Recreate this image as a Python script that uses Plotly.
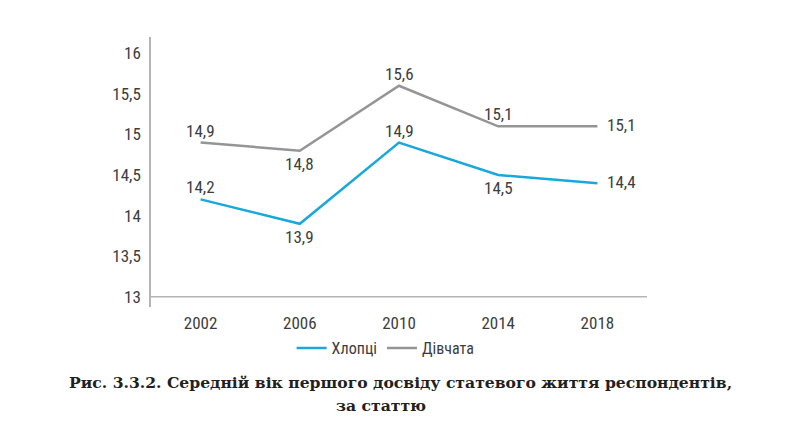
import plotly.graph_objects as go

years = ["2002", "2006", "2010", "2014", "2018"]
boys = [14.2, 13.9, 14.9, 14.5, 14.4]
girls = [14.9, 14.8, 15.6, 15.1, 15.1]
boys_pos = ["above", "below", "above", "below", "right"]
girls_pos = ["above", "below", "above", "above", "right"]
y_ticks = [13, 13.5, 14, 14.5, 15, 15.5, 16]
y_tick_labels = ["13", "13,5", "14", "14,5", "15", "15,5", "16"]
caption1 = "Рис. 3.3.2. Середній вік першого досвіду статевого життя респондентів,"
caption2 = "за статтю"

fmt = lambda v: f"{v:.1f}".replace(".", ",")
tick_font = dict(family="Liberation Sans Narrow, Roboto Condensed, Arial Narrow, Liberation Sans",
                 size=17, color="#3d3d3d")

fig = go.Figure()
fig.add_trace(go.Scatter(x=years, y=boys, mode="lines", name="Хлопці",
                         line=dict(color="#1aa7dc", width=2.5)))
fig.add_trace(go.Scatter(x=years, y=girls, mode="lines", name="Дівчата",
                         line=dict(color="#959595", width=2.5)))

shifts = {"above": dict(yshift=12, xshift=0, xanchor="center"),
          "below": dict(yshift=-13, xshift=0, xanchor="center"),
          "right": dict(yshift=1, xshift=8, xanchor="left")}
annotations = []
for vals, poss in ((boys, boys_pos), (girls, girls_pos)):
    for i, (v, p) in enumerate(zip(vals, poss)):
        s = shifts[p]
        annotations.append(dict(x=i, y=v, xref="x", yref="y", text=fmt(v), showarrow=False,
                                xanchor=s["xanchor"], yanchor="middle",
                                xshift=s["xshift"], yshift=s["yshift"], font=tick_font))

fig.add_shape(type="line", xref="paper", yref="y", x0=0, x1=1, y0=13, y1=13,
              line=dict(color="#b5b5b5", width=1.5), layer="below")

annotations += [
    dict(text="<b>" + caption1 + "</b>", xref="paper", yref="paper", x=0.5, xanchor="center",
         y=-0.281, yanchor="middle", showarrow=False, xshift=1,
         font=dict(family="DejaVu Serif, Liberation Serif", size=15.6, color="#231f20")),
    dict(text="<b>" + caption2 + "</b>", xref="paper", yref="paper", x=0.5, xanchor="center",
         y=-0.363, yanchor="middle", showarrow=False, xshift=-18,
         font=dict(family="DejaVu Serif, Liberation Serif", size=15.6, color="#231f20")),
]

fig.update_layout(
    width=800, height=424,
    margin=dict(l=151, r=153, t=37, b=117, autoexpand=False),
    plot_bgcolor="white", paper_bgcolor="white",
    showlegend=True,
    legend=dict(orientation="h", x=0.473, xanchor="center", y=-0.152, yanchor="middle",
                font=dict(family=tick_font["family"], size=16, color="#3d3d3d"), tracegroupgap=0),
    xaxis=dict(type="category", range=[-0.5, len(years) - 0.5], showgrid=False, zeroline=False,
               showline=False, ticks="", tickfont=tick_font, ticklabelstandoff=4),
    yaxis=dict(range=[12.875, 16.2], tickvals=y_ticks, ticktext=y_tick_labels,
               showgrid=False, zeroline=False, showline=True, linecolor="#b5b5b5", linewidth=1.5,
               ticks="", tickfont=tick_font, ticklabelstandoff=5),
    annotations=annotations,
)

fig.write_html("out.html", config={"displayModeBar": False},
               post_script="document.body.style.margin='0';")
